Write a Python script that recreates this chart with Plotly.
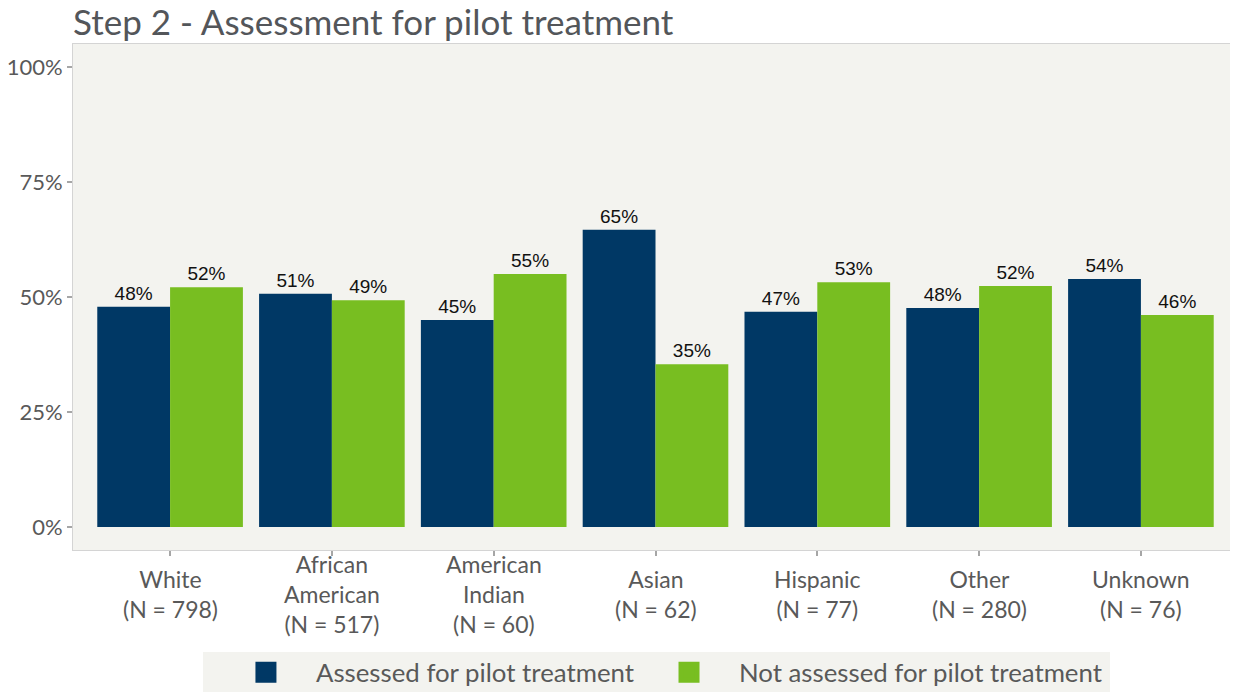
import plotly.graph_objects as go

categories = ["White<br>(N = 798)", "African<br>American<br>(N = 517)", "American<br>Indian<br>(N = 60)",
              "Asian<br>(N = 62)", "Hispanic<br>(N = 77)", "Other<br>(N = 280)", "Unknown<br>(N = 76)"]
assessed = [0.479, 0.507, 0.450, 0.646, 0.468, 0.476, 0.539]
not_assessed = [0.521, 0.493, 0.550, 0.354, 0.532, 0.524, 0.461]
series_names = ["Assessed for pilot treatment", "Not assessed for pilot treatment"]
y_ticks = [0, 0.25, 0.5, 0.75, 1.0]
y_tick_labels = ["0%", "25%", "50%", "75%", "100%"]

NAVY = "#003865"
GREEN = "#78BE21"
PANEL = "#F3F3EF"
GRAY_TEXT = "#595959"
FONT = "Lato"

x = list(range(len(categories)))

fig = go.Figure()
for vals, name, color in [(assessed, series_names[0], NAVY), (not_assessed, series_names[1], GREEN)]:
    fig.add_trace(go.Bar(
        x=x, y=vals, name=name, marker=dict(color=color, line=dict(width=0)),
        texttemplate="%{y:.0%}", textposition="outside", cliponaxis=False, showlegend=False,
        textfont=dict(family="Liberation Sans, Arial", size=19, color="#111111"),
    ))
# legend keys (large squares like the original)
for name, color in [(series_names[0], NAVY), (series_names[1], GREEN)]:
    fig.add_trace(go.Scatter(x=[None], y=[None], mode="markers", name=name,
                             marker=dict(symbol="square", size=16, color=color,
                                         line=dict(width=5, color=color))))

# category labels, vertically centred like the original
for i, c in enumerate(categories):
    fig.add_annotation(x=i, xref="x", y=-0.087, yref="paper", text=c, showarrow=False,
                       yanchor="middle", xanchor="center",
                       font=dict(family=FONT, size=23, color=GRAY_TEXT))

# legend background box
fig.add_shape(type="rect", xref="paper", yref="paper", x0=0.1116, x1=0.8901, y0=-0.2016, y1=-0.40,
              fillcolor=PANEL, line=dict(width=0), layer="below")

fig.update_layout(
    width=1230, height=684,
    margin=dict(l=65, r=0, t=36, b=142, autoexpand=False),
    paper_bgcolor="white", plot_bgcolor=PANEL,
    barmode="group", bargap=0.1, bargroupgap=0,
    title=dict(text="Step 2 - Assessment for pilot treatment", x=0, xref="paper", xanchor="left",
               y=1 - 15 / 684, yref="container", yanchor="middle",
               font=dict(family=FONT, size=35, color="#53565A")),
    legend=dict(orientation="h", x=0.1227, xanchor="left", xref="paper", y=-0.1957, yanchor="top",
                bgcolor="rgba(0,0,0,0)", font=dict(family=FONT, size=25.8, color=GRAY_TEXT),
                itemwidth=90, traceorder="normal", itemsizing="trace"),
)
fig.update_xaxes(range=[-0.6, 6.6], tickvals=x, ticktext=[""] * len(x), ticks="outside", ticklen=5,
                 tickwidth=2, tickcolor="#A6A6A6", showgrid=False, zeroline=False, automargin=False,
                 showline=True, mirror=True, linecolor="#D4D4D4", linewidth=1)
fig.update_yaxes(range=[-0.05, 1.05], tickvals=y_ticks, ticktext=y_tick_labels, ticks="outside", ticklen=5,
                 tickwidth=2, tickcolor="#A6A6A6", showgrid=False, zeroline=False, automargin=False,
                 showline=True, mirror=True, linecolor="#D4D4D4", linewidth=1,
                 tickfont=dict(family=FONT, size=22, color=GRAY_TEXT))

fig.write_html("out.html")
